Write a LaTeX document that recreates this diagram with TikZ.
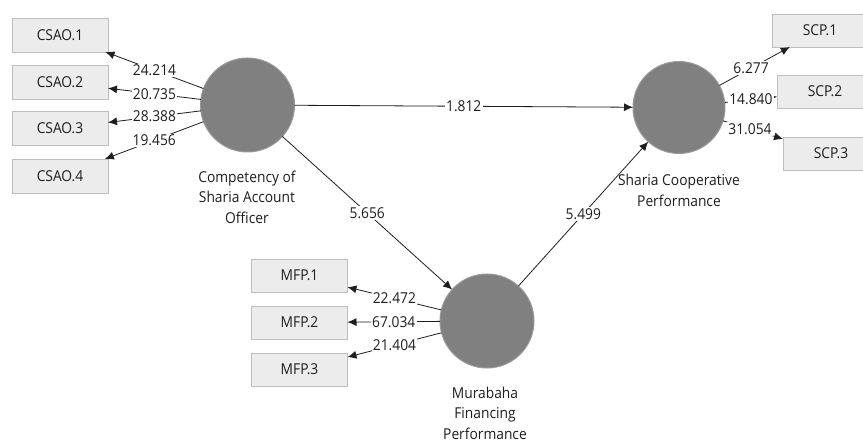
\documentclass[tikz,border=0pt]{standalone}
\usepackage{fontspec}
\setmainfont[FakeStretch=0.92]{Open Sans}
\usetikzlibrary{arrows.meta}
\definecolor{lvfill}{HTML}{808080}
\definecolor{lvedge}{HTML}{9A9A9A}
\definecolor{mvfill}{HTML}{ECECEC}
\definecolor{mvedge}{HTML}{BEBEBE}
\definecolor{ink}{HTML}{1E1E1E}
\tikzset{
  lv/.style={circle, fill=lvfill, draw=lvedge, line width=1pt, minimum size=94pt, inner sep=0pt, outer sep=0pt},
  mv/.style={rectangle, fill=mvfill, draw=mvedge, line width=0.8pt, minimum width=96pt, minimum height=34pt, inner sep=0pt, outer sep=0pt, font=\fontsize{15}{18}\selectfont, text=ink},
  lbl/.style={fill=white, inner sep=1.2pt, font=\fontsize{15}{18}\selectfont, text=ink},
  lvcaption/.style={align=center, font=\fontsize{15}{20.5}\selectfont, text=ink},
  arr/.style={draw=ink, line width=0.8pt, -{Latex[length=9pt,width=8pt]}},
}
\begin{document}
\begin{tikzpicture}[x=1pt,y=-1pt]
\clip (0,0) rectangle (863,441);
\fill[white] (0,0) rectangle (863,441);
% latent variables
\node[lv] (csao) at (247.5,105) {};
\node[lv, minimum size=92pt] (scp) at (679,107.5) {};
\node[lv] (mfp) at (487,321) {};
% captions
\node[lvcaption] (csaocap) at (247,197) {Competency of\\Sharia Account\\Officer};
\node[lvcaption] (scpcap) at (679,190.5) {Sharia Cooperative\\Performance};
\node[lvcaption] (mfpcap) at (485,413) {Murabaha\\Financing\\Performance};
% indicator boxes
\node[mv] (c1) at (60,35) {CSAO.1};
\node[mv] (c2) at (60,82.5) {CSAO.2};
\node[mv] (c3) at (60,128.5) {CSAO.3};
\node[mv] (c4) at (60,176) {CSAO.4};
\node[mv, minimum height=33pt] (m1) at (299.5,275.5) {MFP.1};
\node[mv, minimum height=33pt] (m2) at (299.5,322.5) {MFP.2};
\node[mv, minimum height=33pt] (m3) at (299.5,369.5) {MFP.3};
\node[mv, minimum height=33pt] (s1) at (820,30.5) {SCP.1};
\node[mv, minimum height=33pt] (s2) at (825,91.5) {SCP.2};
\node[mv, minimum height=33pt] (s3) at (831,153.5) {SCP.3};
% outer loadings
\draw[arr] (csao) -- node[lbl]{24.214} (c1);
\draw[arr] (csao) -- node[lbl]{20.735} (c2);
\draw[arr] (csao) -- node[lbl]{28.388} (c3);
\draw[arr] (csao) -- node[lbl]{19.456} (c4);
\draw[arr] (mfp) -- node[lbl]{22.472} (m1);
\draw[arr] (mfp) -- node[lbl]{67.034} (m2);
\draw[arr] (mfp) -- node[lbl]{21.404} (m3);
\draw[arr] (scp) -- node[lbl, pos=0.45]{6.277} (s1);
\draw[arr] (scp) -- node[lbl]{14.840} (s2);
\draw[arr] (scp) -- node[lbl, pos=0.45]{31.054} (s3);
% path coefficients
\draw[arr] (csao) -- node[lbl]{1.812} (scp);
\draw[arr] (csao) -- node[lbl]{5.656} (mfp);
\draw[arr] (mfp) -- node[lbl]{5.499} (scp);
\end{tikzpicture}
\end{document}
